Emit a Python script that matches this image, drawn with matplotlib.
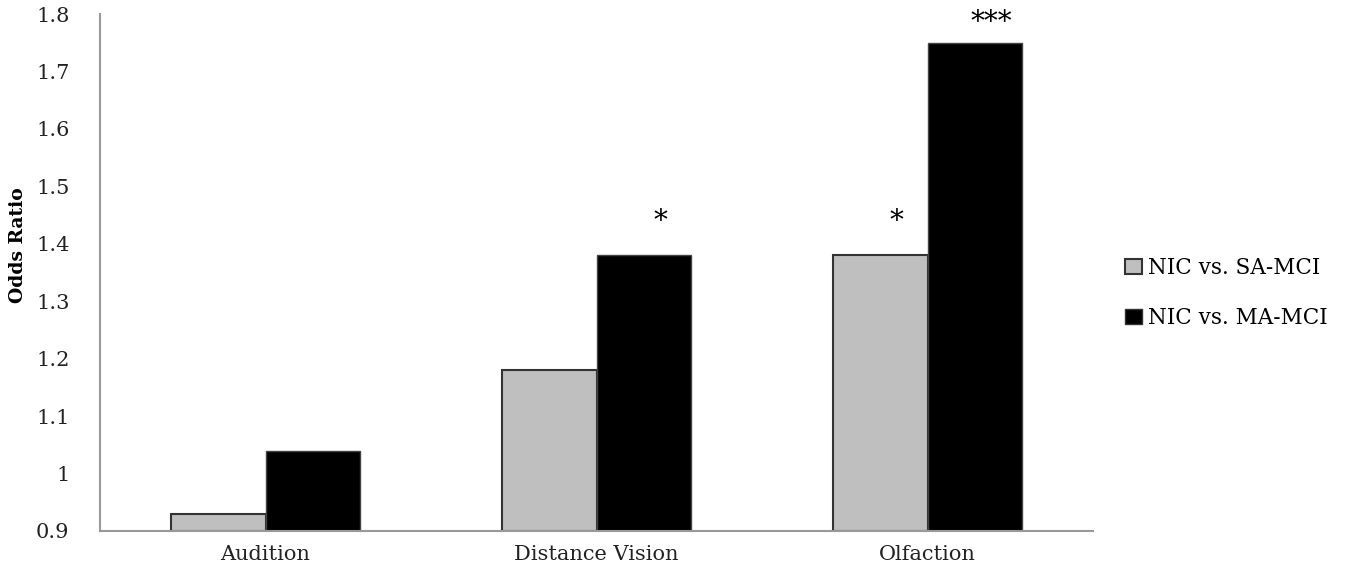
import matplotlib.pyplot as plt
import numpy as np
from matplotlib.patches import Patch

# data
categories = ['Audition', 'Distance Vision', 'Olfaction']
sa_mci = [0.93, 1.18, 1.38]
ma_mci = [1.04, 1.38, 1.75]
sa_stars = ['', '', '*']
ma_stars = ['', '*', '***']
yticks = [0.9, 1, 1.1, 1.2, 1.3, 1.4, 1.5, 1.6, 1.7, 1.8]
ytick_labels = ['0.9', '1', '1.1', '1.2', '1.3', '1.4', '1.5', '1.6', '1.7', '1.8']

plt.rcParams['font.family'] = ['DejaVu Serif']

fig = plt.figure(figsize=(13.48, 5.81), dpi=100)
ax = fig.add_axes([100 / 1348, 50 / 581, 993 / 1348, 517 / 581])

x = np.arange(len(categories))
w = 0.287
bottom = 0.9
ax.bar(x - w / 2, np.array(sa_mci) - bottom, w, bottom=bottom, color='#bfbfbf',
       edgecolor='#333333', linewidth=1.5, label='NIC vs. SA-MCI')
ax.bar(x + w / 2, np.array(ma_mci) - bottom, w, bottom=bottom, color='black',
       edgecolor='#444444', linewidth=1, label='NIC vs. MA-MCI')

# significance stars, kept inside the plot area
for i in range(len(categories)):
    if sa_stars[i]:
        ax.text(x[i] - w / 2 + 0.05, min(sa_mci[i] + 0.058, 1.785), sa_stars[i],
                ha='center', va='center', fontsize=20)
    if ma_stars[i]:
        ax.text(x[i] + w / 2 + 0.05, min(ma_mci[i] + 0.058, 1.785), ma_stars[i],
                ha='center', va='center', fontsize=20)

ax.set_xlim(-0.5, 2.5)
ax.set_ylim(0.9, 1.8)
ax.set_xticks(x)
ax.set_xticklabels(categories, fontsize=15, color='#222222')
ax.set_yticks(yticks)
ax.set_yticklabels(ytick_labels, fontsize=15, color='#222222')
ax.tick_params(length=0, pad=22)
ax.tick_params(axis='x', pad=10)
for s in ['top', 'right']:
    ax.spines[s].set_visible(False)
for s in ['left', 'bottom']:
    ax.spines[s].set_color('#999999')
    ax.spines[s].set_linewidth(1.5)
fig.text(18 / 1348, 1 - 245 / 581, 'Odds Ratio', rotation=90, fontsize=13.5,
         fontweight='bold', ha='center', va='center')

handles = [Patch(facecolor='#bfbfbf', edgecolor='#333333', linewidth=1.5),
           Patch(facecolor='black', edgecolor='#333333')]
fig.legend(handles, ['NIC vs. SA-MCI', 'NIC vs. MA-MCI'], loc='center left',
           bbox_to_anchor=(1106 / 1348, 1 - 293 / 581), frameon=False, fontsize=15.5,
           handlelength=0.75, handleheight=0.75, handletextpad=0.3, labelspacing=1.3)

fig.savefig('out.png', dpi=100)
